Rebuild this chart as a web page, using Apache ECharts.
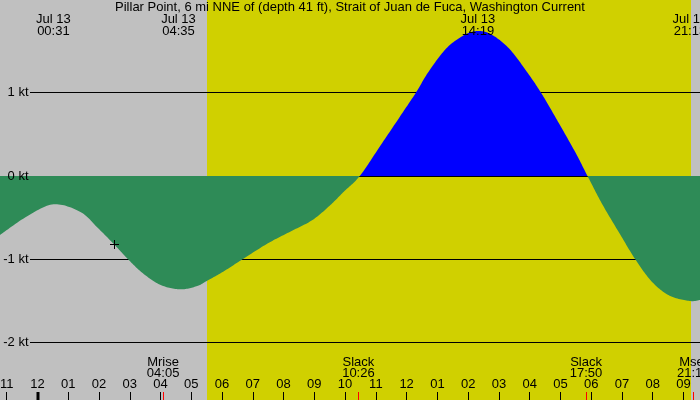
<!DOCTYPE html>
<html><head><meta charset="utf-8">
<script src="https://cdn.jsdelivr.net/npm/echarts@6/dist/echarts.min.js"></script>
<style>html,body{margin:0;padding:0;background:#c0c0c0}#c{width:700px;height:400px}</style>
</head><body><div id="c"></div>
<script>
const titleText = 'Pillar Point, 6 mi NNE of (depth 41 ft), Strait of Juan de Fuca, Washington Current';
// hours from midnight Jul 13
const times  = [-1.219,-0.348,0.523,1.395,1.973,2.510,2.945,3.427,4.005,4.629,5.166,5.501,6.037,6.661,7.490,8.215,8.940,9.522,9.958,10.478,11.118,11.843,12.308,12.715,13.293,13.875,14.311,14.746,15.325,15.907,16.385,16.921,17.503,17.880,18.374,18.953,19.434,19.971,20.549,21.202,21.538];
const speeds = [-0.708,-0.486,-0.340,-0.432,-0.628,-0.828,-1.000,-1.168,-1.308,-1.360,-1.324,-1.260,-1.148,-1.000,-0.808,-0.668,-0.528,-0.348,-0.188,0,0.348,0.746,1.004,1.252,1.532,1.692,1.740,1.700,1.532,1.252,0.990,0.652,0.272,0,-0.348,-0.708,-1.000,-1.268,-1.436,-1.500,-1.488];
const levelValues = [1, 0, -1, -2];
const levelLabels = ['1 kt', '0 kt', '-1 kt', '-2 kt'];
const daylightStart = [5.511];
const daylightEnd = [21.245];
const topEventTimes = [0.517, 4.583, 14.317, 21.21];
const topEventDates = ['Jul 13', 'Jul 13', 'Jul 13', 'Jul 13'];
const topEventClock = ['00:31', '04:35', '14:19', '21:13'];
const bottomEventTimes = [4.083, 10.433, 17.833, 21.32];
const bottomEventNames = ['Mrise', 'Slack', 'Slack', 'Mset'];
const bottomEventClock = ['04:05', '10:26', '17:50', '21:19'];
const midnightTimes = [0];
const markerTimes = [2.497];
const markerValues = [-0.82];

const FLOOD = '#0000ff', EBB = '#2e8b57';
const FONT = '13px "Liberation Sans", Arial, sans-serif';
const FAM = '"Liberation Sans", Arial, sans-serif';

// smooth curve through pixel points (Catmull-Rom), for drawing only
function splinePoints(pts, steps) {
  const out = [];
  const n = pts.length;
  for (let i = 0; i < n - 1; i++) {
    const p0 = pts[Math.max(i - 1, 0)], p1 = pts[i], p2 = pts[i + 1], p3 = pts[Math.min(i + 2, n - 1)];
    for (let s = 0; s < steps; s++) {
      const u = s / steps, u2 = u * u, u3 = u2 * u;
      const f = (k) => 0.5 * (2 * p1[k] + (-p0[k] + p2[k]) * u + (2 * p0[k] - 5 * p1[k] + 4 * p2[k] - p3[k]) * u2 + (-p0[k] + 3 * p1[k] - 3 * p2[k] + p3[k]) * u3);
      out.push([f(0), f(1)]);
    }
  }
  out.push(pts[n - 1]);
  return out;
}

const chart = echarts.init(document.getElementById('c'), null, {renderer: 'canvas'});
chart.setOption({
  backgroundColor: '#c0c0c0',
  animation: false,
  grid: {left: -24.02, right: -14.22, top: 0, bottom: 0, containLabel: false, outerBoundsMode: 'none'},
  xAxis: {
    type: 'value', min: -2, max: 22, interval: 1, z: 10,
    axisLine: {show: false, onZero: false}, splitLine: {show: false},
    axisTick: {inside: true, length: 8, lineStyle: {color: '#000', width: 1}},
    axisLabel: {inside: true, margin: 9, color: '#000', fontSize: 13, fontFamily: FAM,
      formatter: function (v) { let h = ((v % 12) + 12) % 12; if (h === 0) h = 12; return (h < 10 ? '0' : '') + h; }}
  },
  yAxis: {type: 'value', min: -2.688, max: 2.112, show: false, splitLine: {show: false}},
  series: [
    { // daylight background
      type: 'custom', z: 0, silent: true,
      data: daylightStart.map((s, i) => [s, daylightEnd[i]]),
      encode: {x: [0, 1]},
      renderItem: function (params, api) {
        const a = api.coord([api.value(0), 0]);
        const b = api.coord([api.value(1), 0]);
        return {type: 'rect', shape: {x: Math.round(a[0]), y: 0, width: Math.round(b[0]) - Math.round(a[0]), height: api.getHeight()},
          style: {fill: '#d0d000'}};
      }
    },
    { // level lines (under the curve)
      type: 'custom', z: 1, silent: true,
      data: levelValues.map((v, i) => [0, v, i]),
      encode: {x: 0, y: 1},
      renderItem: function (params, api) {
        const yy = Math.floor(api.coord([0, api.value(1)])[1]) + 0.5;
        return {type: 'line', shape: {x1: 30, y1: yy, x2: 700, y2: yy}, style: {stroke: '#000', lineWidth: 1}};
      }
    },
    { // current curve: area between the curve and the 0 kt line
      type: 'custom', z: 3, silent: true,
      data: times.map((t, i) => [t, speeds[i]]),
      encode: {x: 0, y: 1},
      renderItem: function (params, api) {
        if (params.dataIndex !== 0) return null;
        const pts = times.map((t, i) => api.coord([t, speeds[i]]));
        const base = api.coord([0, 0])[1];
        const curve = splinePoints(pts, 16);
        const poly = curve.concat([[curve[curve.length - 1][0], base], [curve[0][0], base]]);
        const H = api.getHeight();
        const off = base / H;
        return {type: 'polygon', shape: {points: poly},
          style: {fill: new echarts.graphic.LinearGradient(0, 0, 0, H, [
            {offset: 0, color: FLOOD}, {offset: off, color: FLOOD}, {offset: off, color: EBB}, {offset: 1, color: EBB}], true)}};
      }
    },
    { // level labels (on top)
      type: 'custom', z: 5, silent: true,
      data: levelValues.map((v, i) => [0, v, i]),
      encode: {x: 0, y: 1},
      renderItem: function (params, api) {
        const yy = Math.floor(api.coord([0, api.value(1)])[1]) + 0.5;
        const i = api.value(2);
        return {type: 'text', style: {text: levelLabels[i], x: 28.5, y: yy, align: 'right', verticalAlign: 'middle', font: FONT, fill: '#000'}};
      }
    },
    { // top events
      type: 'custom', z: 5, silent: true,
      data: topEventTimes.map((t, i) => [t, 0, i]),
      encode: {x: 0, y: 1},
      renderItem: function (params, api) {
        const x = api.coord([api.value(0), 0])[0];
        const i = api.value(2);
        return {type: 'group', children: [
          {type: 'text', style: {text: topEventDates[i], x: x, y: 19.7, align: 'center', verticalAlign: 'middle', font: FONT, fill: '#000'}},
          {type: 'text', style: {text: topEventClock[i], x: x, y: 31.2, align: 'center', verticalAlign: 'middle', font: FONT, fill: '#000'}}
        ]};
      }
    },
    { // bottom events
      type: 'custom', z: 5, silent: true,
      data: bottomEventTimes.map((t, i) => [t, 0, i]),
      encode: {x: 0, y: 1},
      renderItem: function (params, api) {
        const x = api.coord([api.value(0), 0])[0];
        const i = api.value(2);
        const xr = Math.floor(x);
        return {type: 'group', children: [
          {type: 'text', style: {text: bottomEventNames[i], x: x, y: 362, align: 'center', verticalAlign: 'middle', font: FONT, fill: '#000'}},
          {type: 'text', style: {text: bottomEventClock[i], x: x, y: 373.5, align: 'center', verticalAlign: 'middle', font: FONT, fill: '#000'}},
          {type: 'rect', shape: {x: xr, y: 392, width: 1, height: 8}, style: {fill: '#ff0000'}}
        ]};
      }
    },
    { // midnight thick tick
      type: 'custom', z: 5, silent: true,
      data: midnightTimes.map(t => [t, 0]),
      encode: {x: 0, y: 1},
      renderItem: function (params, api) {
        const x = api.coord([api.value(0), 0])[0];
        return {type: 'rect', shape: {x: Math.round(x) - 1.5, y: 392, width: 3, height: 8}, style: {fill: '#000'}};
      }
    },
    { // marker +
      type: 'custom', z: 5, silent: true,
      data: markerTimes.map((t, i) => [t, markerValues[i]]),
      encode: {x: 0, y: 1},
      renderItem: function (params, api) {
        const p = api.coord([api.value(0), api.value(1)]);
        const x = Math.floor(p[0]) + 0.5, y = Math.floor(p[1]) + 0.5;
        return {type: 'group', children: [
          {type: 'line', shape: {x1: x - 4.5, y1: y, x2: x + 4.5, y2: y}, style: {stroke: '#000', lineWidth: 1}},
          {type: 'line', shape: {x1: x, y1: y - 4.5, x2: x, y2: y + 4.5}, style: {stroke: '#000', lineWidth: 1}}
        ]};
      }
    }
  ],
  graphic: [{type: 'text', left: 'center', top: 1, z: 20,
    style: {text: titleText, font: FONT, fill: '#000'}}]
});
</script></body></html>
